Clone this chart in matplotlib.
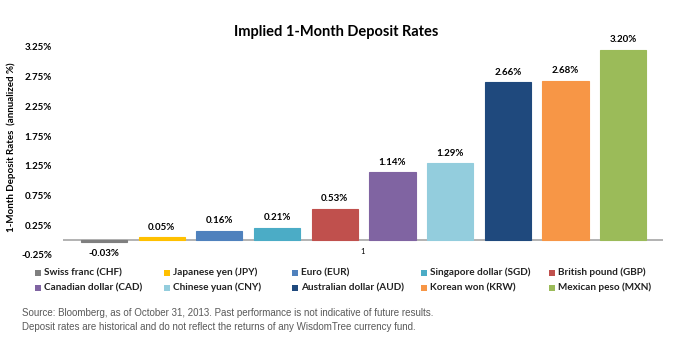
import matplotlib
matplotlib.use("Agg")
import matplotlib.pyplot as plt
from matplotlib.patches import Rectangle

currencies = ['Swiss franc (CHF)', 'Japanese yen (JPY)', 'Euro (EUR)',
              'Singapore dollar (SGD)', 'British pound (GBP)',
              'Canadian dollar (CAD)', 'Chinese yuan (CNY)',
              'Australian dollar (AUD)', 'Korean won (KRW)', 'Mexican peso (MXN)']
rates = [-0.03, 0.05, 0.16, 0.21, 0.53, 1.14, 1.29, 2.66, 2.68, 3.20]
colors = ['#7f7f7f', '#ffc000', '#4f81bd', '#4bacc6', '#c0504d',
          '#8064a2', '#93cddd', '#1f497d', '#f79646', '#9bbb59']
yticks = [-0.25, 0.25, 0.75, 1.25, 1.75, 2.25, 2.75, 3.25]

plt.rcParams['font.family'] = ['Lato', 'DejaVu Sans']

fig = plt.figure(figsize=(6.98, 3.40), dpi=100)
ax = fig.add_axes([63/698, 85/340, 600/698, 208/340])

x = list(range(len(rates)))
ax.bar(x, rates, width=0.8, color=colors, edgecolor=colors, linewidth=0.8, zorder=2)
ax.axhline(0, color='#a6a6a6', linewidth=1.2, zorder=1)

for xi, r in zip(x, rates):
    if r >= 0:
        ax.annotate(f'{r:.2f}%', (xi, r), xytext=(0, 4), textcoords='offset points',
                    ha='center', va='bottom', fontsize=7, fontweight='bold')
    else:
        ax.annotate(f'{r:.2f}%', (xi, r), xytext=(0, -5), textcoords='offset points',
                    ha='center', va='top', fontsize=7, fontweight='bold')

ax.set_xlim(-0.71, 9.69)
ax.set_ylim(-0.25, 3.25)
ax.set_yticks(yticks)
ax.set_yticklabels([f'{t:.2f}%' for t in yticks], fontsize=7, fontweight='bold')
ax.set_xticks([4.49])
ax.set_xticklabels(['1'], fontsize=5.5)
ax.tick_params(axis='both', length=0)
ax.tick_params(axis='y', pad=8)
ax.tick_params(axis='x', pad=-5)
for s in ax.spines.values():
    s.set_visible(False)

ax.set_ylabel('1-Month Deposit Rates  (annualized %)', fontsize=7, fontweight='bold')
ax.yaxis.set_label_coords(-0.078, 0.52)

fig.text(336/698, 1 - 32/340, 'Implied 1-Month Deposit Rates', ha='center', va='center',
         fontsize=10.5, fontweight='bold')

# legend, 2 rows x 5 columns
col_x = [38, 167, 295, 424, 552]
row_y = [272.5, 287.5]
for i, (name, c) in enumerate(zip(currencies, colors)):
    cx = col_x[i % 5]
    cy = row_y[i // 5]
    fig.patches.append(Rectangle(((cx - 3) / 698, 1 - (cy + 3) / 340), 6 / 698, 6 / 340,
                                 transform=fig.transFigure, facecolor=c, edgecolor='none'))
    fig.text((cx + 6) / 698, 1 - cy / 340, name, ha='left', va='center',
             fontsize=7.2, fontweight='bold', color='#222222')

fig.text(22/698, 1 - 313/340,
         'Source: Bloomberg, as of October 31, 2013. Past performance is not indicative of future results.',
         ha='left', va='center', fontsize=7, color='#595959', family='Liberation Sans')
fig.text(22/698, 1 - 327/340,
         'Deposit rates are historical and do not reflect the returns of any WisdomTree currency fund.',
         ha='left', va='center', fontsize=7, color='#595959', family='Liberation Sans')

fig.savefig('out.png', dpi=100)
